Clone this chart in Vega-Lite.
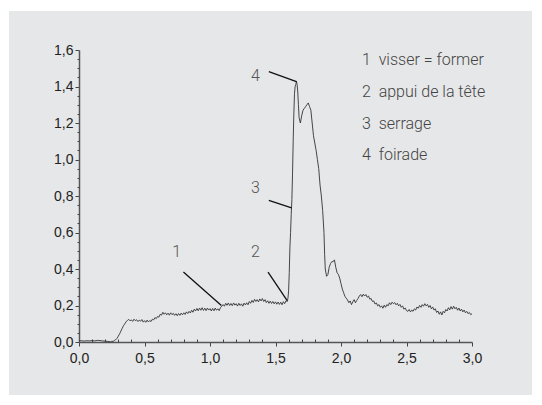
{
  "$schema": "https://vega.github.io/schema/vega-lite/v6.json",
  "width": 523,
  "height": 384,
  "autosize": {"type": "none"},
  "padding": {"left": 9, "top": 11, "right": 10, "bottom": 10},
  "background": "white",
  "config": {
    "view": {"fill": "#e6e7e8", "stroke": null},
    "axis": {"labelFont": "Liberation Sans", "labelFontSize": 14, "labelColor": "#222", "domainColor": "#555", "domainWidth": 1.5, "tickColor": "#444", "tickWidth": 1, "grid": false, "title": null, "labelOverlap": false, "labelBound": false, "labelFlush": false}
  },
  "resolve": {"axis": {"x": "independent", "y": "independent"}},
  "layer": [
    {
      "data": {"values": [
        {"x":0.00,"y":0.006},{"x":0.02,"y":0.007},{"x":0.04,"y":0.005},{"x":0.06,"y":0.007},{"x":0.08,"y":0.006},{"x":0.10,"y":0.008},{"x":0.12,"y":0.006},{"x":0.14,"y":0.009},{"x":0.16,"y":0.008},{"x":0.18,"y":0.006},{"x":0.20,"y":0.005},{"x":0.22,"y":0.003},{"x":0.24,"y":0.001},{"x":0.25,"y":0.004},{"x":0.26,"y":0.003},{"x":0.27,"y":0.008},{"x":0.28,"y":0.012},{"x":0.29,"y":0.02},{"x":0.30,"y":0.032},{"x":0.31,"y":0.045},{"x":0.32,"y":0.06},{"x":0.33,"y":0.075},{"x":0.34,"y":0.09},{"x":0.35,"y":0.1},{"x":0.36,"y":0.112},{"x":0.37,"y":0.118},
        {"x":0.38,"y":0.124},{"x":0.39,"y":0.116},{"x":0.40,"y":0.121},{"x":0.41,"y":0.113},{"x":0.42,"y":0.125},{"x":0.43,"y":0.117},{"x":0.44,"y":0.122},{"x":0.45,"y":0.112},{"x":0.46,"y":0.12},{"x":0.47,"y":0.114},{"x":0.48,"y":0.123},{"x":0.49,"y":0.109},{"x":0.50,"y":0.117},{"x":0.51,"y":0.108},{"x":0.52,"y":0.12},{"x":0.53,"y":0.11},{"x":0.54,"y":0.118},{"x":0.55,"y":0.112},{"x":0.56,"y":0.125},{"x":0.57,"y":0.121},{"x":0.58,"y":0.134},{"x":0.59,"y":0.128},{"x":0.60,"y":0.14},{"x":0.61,"y":0.136},{"x":0.62,"y":0.152},{"x":0.63,"y":0.147},{"x":0.64,"y":0.163},{"x":0.65,"y":0.152},{"x":0.66,"y":0.16},{"x":0.67,"y":0.149},{"x":0.68,"y":0.158},{"x":0.69,"y":0.147},{"x":0.70,"y":0.16},{"x":0.71,"y":0.15},{"x":0.72,"y":0.157},{"x":0.73,"y":0.146},{"x":0.74,"y":0.155},{"x":0.75,"y":0.144},{"x":0.76,"y":0.156},{"x":0.77,"y":0.146},{"x":0.78,"y":0.158},{"x":0.79,"y":0.149},{"x":0.80,"y":0.16},{"x":0.81,"y":0.151},{"x":0.82,"y":0.165},{"x":0.83,"y":0.156},{"x":0.84,"y":0.168},{"x":0.85,"y":0.159},{"x":0.86,"y":0.174},{"x":0.87,"y":0.163},{"x":0.88,"y":0.18},{"x":0.89,"y":0.17},{"x":0.90,"y":0.184},{"x":0.91,"y":0.171},{"x":0.92,"y":0.186},{"x":0.93,"y":0.174},{"x":0.94,"y":0.188},{"x":0.95,"y":0.173},{"x":0.96,"y":0.185},{"x":0.97,"y":0.172},{"x":0.98,"y":0.186},{"x":0.99,"y":0.175},{"x":1.00,"y":0.183},{"x":1.01,"y":0.17},{"x":1.02,"y":0.184},{"x":1.03,"y":0.171},{"x":1.04,"y":0.186},{"x":1.05,"y":0.174},{"x":1.06,"y":0.182},{"x":1.07,"y":0.172},{"x":1.08,"y":0.188},{"x":1.09,"y":0.196},{"x":1.10,"y":0.205},{"x":1.11,"y":0.196},{"x":1.12,"y":0.212},{"x":1.13,"y":0.201},{"x":1.14,"y":0.214},{"x":1.15,"y":0.2},{"x":1.16,"y":0.211},{"x":1.17,"y":0.199},{"x":1.18,"y":0.214},{"x":1.19,"y":0.202},{"x":1.20,"y":0.21},{"x":1.21,"y":0.197},{"x":1.22,"y":0.212},{"x":1.23,"y":0.2},{"x":1.24,"y":0.209},{"x":1.25,"y":0.196},{"x":1.26,"y":0.213},{"x":1.27,"y":0.203},{"x":1.28,"y":0.215},{"x":1.29,"y":0.204},{"x":1.30,"y":0.222},{"x":1.31,"y":0.212},{"x":1.32,"y":0.228},{"x":1.33,"y":0.217},{"x":1.34,"y":0.234},{"x":1.35,"y":0.222},{"x":1.36,"y":0.232},{"x":1.37,"y":0.22},{"x":1.38,"y":0.236},{"x":1.39,"y":0.225},{"x":1.40,"y":0.238},{"x":1.41,"y":0.222},{"x":1.42,"y":0.232},{"x":1.43,"y":0.216},{"x":1.44,"y":0.226},{"x":1.45,"y":0.212},{"x":1.46,"y":0.224},{"x":1.47,"y":0.211},{"x":1.48,"y":0.222},{"x":1.49,"y":0.209},{"x":1.50,"y":0.22},{"x":1.51,"y":0.207},{"x":1.52,"y":0.219},{"x":1.53,"y":0.206},{"x":1.54,"y":0.218},{"x":1.55,"y":0.204},{"x":1.56,"y":0.221},{"x":1.57,"y":0.21},{"x":1.58,"y":0.226},{"x":1.59,"y":0.222},
        {"x":1.595,"y":0.24},{"x":1.60,"y":0.28},{"x":1.605,"y":0.38},{"x":1.61,"y":0.52},{"x":1.615,"y":0.6},{"x":1.62,"y":0.7},{"x":1.625,"y":0.78},{"x":1.63,"y":0.92},{"x":1.635,"y":1.1},{"x":1.64,"y":1.25},{"x":1.645,"y":1.36},{"x":1.65,"y":1.4},{"x":1.655,"y":1.41},{"x":1.66,"y":1.43},{"x":1.665,"y":1.41},{"x":1.67,"y":1.37},{"x":1.675,"y":1.3},{"x":1.68,"y":1.23},{"x":1.69,"y":1.2},{"x":1.70,"y":1.24},{"x":1.71,"y":1.27},{"x":1.72,"y":1.28},{"x":1.73,"y":1.29},{"x":1.74,"y":1.3},{"x":1.75,"y":1.31},{"x":1.76,"y":1.29},{"x":1.77,"y":1.27},{"x":1.78,"y":1.2},{"x":1.79,"y":1.13},{"x":1.80,"y":1.09},{"x":1.81,"y":1.05},{"x":1.82,"y":1.0},{"x":1.83,"y":0.95},{"x":1.84,"y":0.86},{"x":1.85,"y":0.8},{"x":1.86,"y":0.72},{"x":1.87,"y":0.6},{"x":1.875,"y":0.48},{"x":1.88,"y":0.4},{"x":1.89,"y":0.36},{"x":1.90,"y":0.37},{"x":1.91,"y":0.41},{"x":1.92,"y":0.43},{"x":1.93,"y":0.44},{"x":1.94,"y":0.44},{"x":1.95,"y":0.45},{"x":1.96,"y":0.41},{"x":1.97,"y":0.38},{"x":1.98,"y":0.37},{"x":1.99,"y":0.35},{"x":2.00,"y":0.32},{"x":2.01,"y":0.29},{"x":2.02,"y":0.27},{"x":2.03,"y":0.25},{"x":2.04,"y":0.24},{"x":2.05,"y":0.23},{"x":2.06,"y":0.215},{"x":2.07,"y":0.225},{"x":2.08,"y":0.205},{"x":2.09,"y":0.22},{"x":2.10,"y":0.232},{"x":2.11,"y":0.215},{"x":2.12,"y":0.228},{"x":2.13,"y":0.238},{"x":2.14,"y":0.252},{"x":2.15,"y":0.26},{"x":2.16,"y":0.248},{"x":2.17,"y":0.262},{"x":2.18,"y":0.252},{"x":2.19,"y":0.26},{"x":2.20,"y":0.245},{"x":2.21,"y":0.252},{"x":2.22,"y":0.235},{"x":2.23,"y":0.238},{"x":2.24,"y":0.222},{"x":2.25,"y":0.225},{"x":2.26,"y":0.208},{"x":2.27,"y":0.214},{"x":2.28,"y":0.198},{"x":2.29,"y":0.205},{"x":2.30,"y":0.19},{"x":2.31,"y":0.198},{"x":2.32,"y":0.185},{"x":2.33,"y":0.202},{"x":2.34,"y":0.19},{"x":2.35,"y":0.205},{"x":2.36,"y":0.198},{"x":2.37,"y":0.215},{"x":2.38,"y":0.205},{"x":2.39,"y":0.218},{"x":2.40,"y":0.21},{"x":2.41,"y":0.216},{"x":2.42,"y":0.204},{"x":2.43,"y":0.212},{"x":2.44,"y":0.198},{"x":2.45,"y":0.206},{"x":2.46,"y":0.19},{"x":2.47,"y":0.198},{"x":2.48,"y":0.18},{"x":2.49,"y":0.186},{"x":2.50,"y":0.172},{"x":2.51,"y":0.168},{"x":2.52,"y":0.178},{"x":2.53,"y":0.165},{"x":2.54,"y":0.175},{"x":2.55,"y":0.168},{"x":2.56,"y":0.182},{"x":2.57,"y":0.175},{"x":2.58,"y":0.192},{"x":2.59,"y":0.185},{"x":2.60,"y":0.2},{"x":2.61,"y":0.19},{"x":2.62,"y":0.205},{"x":2.63,"y":0.196},{"x":2.64,"y":0.21},{"x":2.65,"y":0.198},{"x":2.66,"y":0.206},{"x":2.67,"y":0.19},{"x":2.68,"y":0.2},{"x":2.69,"y":0.182},{"x":2.70,"y":0.192},{"x":2.71,"y":0.175},{"x":2.72,"y":0.182},{"x":2.73,"y":0.162},{"x":2.74,"y":0.17},{"x":2.75,"y":0.152},{"x":2.76,"y":0.165},{"x":2.77,"y":0.148},{"x":2.78,"y":0.168},{"x":2.79,"y":0.16},{"x":2.80,"y":0.178},{"x":2.81,"y":0.17},{"x":2.82,"y":0.188},{"x":2.83,"y":0.176},{"x":2.84,"y":0.194},{"x":2.85,"y":0.18},{"x":2.86,"y":0.196},{"x":2.87,"y":0.182},{"x":2.88,"y":0.19},{"x":2.89,"y":0.174},{"x":2.90,"y":0.186},{"x":2.91,"y":0.17},{"x":2.92,"y":0.18},{"x":2.93,"y":0.165},{"x":2.94,"y":0.175},{"x":2.95,"y":0.16},{"x":2.96,"y":0.168},{"x":2.97,"y":0.155},{"x":2.98,"y":0.162},{"x":2.99,"y":0.15},{"x":3.00,"y":0.155}
      ]},
      "mark": {"type": "line", "color": "#333", "strokeWidth": 0.9},
      "encoding": {
        "x": {"field": "x", "type": "quantitative", "scale": {"domain": [0, 3], "range": [70, 463], "nice": false, "zero": false},
          "axis": {"title": null, "orient": "bottom", "offset": -53, "values": [0, 0.5, 1, 1.5, 2, 2.5, 3],
            "labelExpr": "replace(format(datum.value, '.1f'), '.', ',')", "tickSize": 4, "labelPadding": 5}},
        "y": {"field": "y", "type": "quantitative", "scale": {"domain": [0, 1.6], "range": [331, 39], "nice": false, "zero": false},
          "axis": {"title": null, "orient": "left", "offset": -70, "values": [0, 0.2, 0.4, 0.6, 0.8, 1, 1.2, 1.4, 1.6],
            "labelExpr": "replace(format(datum.value, '.1f'), '.', ',')", "tickSize": 4, "labelPadding": 2}}
      }
    },
    {
      "data": {"values": [
        {"x": 0.797, "y": 0.383, "x2": 1.087, "y2": 0.2},
        {"x": 1.443, "y": 0.383, "x2": 1.588, "y2": 0.228},
        {"x": 1.449, "y": 0.776, "x2": 1.623, "y2": 0.735},
        {"x": 1.449, "y": 1.482, "x2": 1.66, "y2": 1.427}
      ]},
      "mark": {"type": "rule", "color": "#111", "strokeWidth": 1.3},
      "encoding": {
        "x": {"field": "x", "type": "quantitative",
          "axis": {"title": null, "orient": "bottom", "offset": -53, "domain": false, "labels": false, "tickSize": -3,
            "values": [0.1,0.2,0.3,0.4,0.6,0.7,0.8,0.9,1.1,1.2,1.3,1.4,1.6,1.7,1.8,1.9,2.1,2.2,2.3,2.4,2.6,2.7,2.8,2.9]}},
        "y": {"field": "y", "type": "quantitative",
          "axis": {"title": null, "orient": "left", "offset": -70, "domain": false, "labels": false, "tickSize": 2,
            "values": [0.05,0.1,0.15,0.25,0.3,0.35,0.45,0.5,0.55,0.65,0.7,0.75,0.85,0.9,0.95,1.05,1.1,1.15,1.25,1.3,1.35,1.45,1.5,1.55]}},
        "x2": {"field": "x2"},
        "y2": {"field": "y2"}
      }
    },
    {
      "data": {"values": [
        {"x": 0.746, "y": 0.493, "t": "1"},
        {"x": 1.346, "y": 0.493, "t": "2"},
        {"x": 1.346, "y": 0.845, "t": "3"},
        {"x": 1.346, "y": 1.456, "t": "4"}
      ]},
      "mark": {"type": "text", "font": "Roboto", "fontWeight": 300, "fontSize": 16, "fill": "#555", "align": "center", "baseline": "middle"},
      "encoding": {
        "x": {"field": "x", "type": "quantitative", "axis": null},
        "y": {"field": "y", "type": "quantitative", "axis": null},
        "text": {"field": "t"}
      }
    },
    {
      "data": {"values": [
        {"x": 2.16, "y": 1.545, "t": "1\u00a0 visser = former"},
        {"x": 2.16, "y": 1.371, "t": "2\u00a0 appui de la tête"},
        {"x": 2.16, "y": 1.197, "t": "3\u00a0 serrage"},
        {"x": 2.16, "y": 1.023, "t": "4\u00a0 foirade"}
      ]},
      "mark": {"type": "text", "font": "Roboto", "fontWeight": 300, "fontSize": 16, "fill": "#444", "align": "left", "baseline": "middle"},
      "encoding": {
        "x": {"field": "x", "type": "quantitative", "axis": null},
        "y": {"field": "y", "type": "quantitative", "axis": null},
        "text": {"field": "t"}
      }
    }
  ]
}
